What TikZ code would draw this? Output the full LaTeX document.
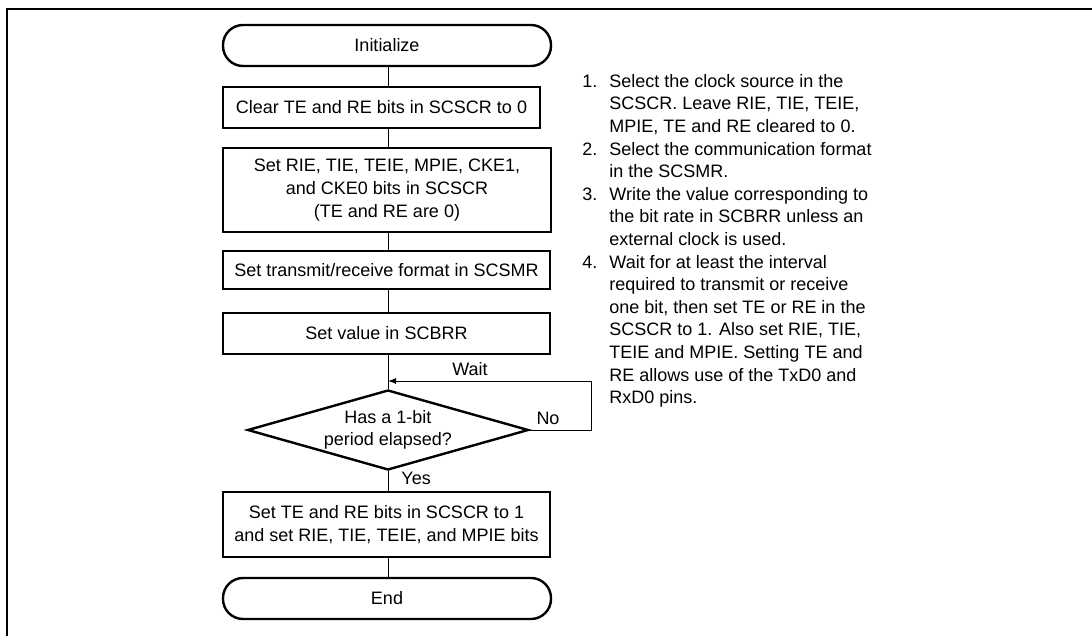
\documentclass[tikz,border=0pt]{standalone}
\usepackage{fontspec}
\setmainfont{Liberation Sans}
\usetikzlibrary{arrows.meta, shapes.geometric}

\begin{document}
\begin{tikzpicture}[x=0.5pt, y=-0.5pt,
    every node/.style={font=\fontsize{9}{11.3}\selectfont},
    termbox/.style={draw, line width=1.2pt, rounded corners=10pt, inner sep=0pt,
                    minimum width=164pt, minimum height=20.5pt},
    procbox/.style={draw, line width=1.2pt, inner sep=0pt, align=center},
    decbox/.style={draw, diamond, line width=1.2pt, inner sep=0pt, aspect=3.5,
                   minimum width=140.5pt, minimum height=40pt, align=center},
    link/.style={line width=0.5pt},
    lbl/.style={inner sep=0pt}]
  \useasboundingbox (0,0) rectangle (1092,636);
  % frame
  \draw[line width=1.2pt] (7,636) -- (7,9) -- (1092,9);

  % flow
  \node[termbox] (init) at (387,45.5) {Initialize};
  \node[procbox, minimum width=158.5pt, minimum height=20.5pt] (clear) at (381.5,107.5)
    {Clear TE and RE bits in SCSCR to 0};
  \node[procbox, minimum width=164pt, minimum height=42pt] (setrie) at (387,190)
    {Set RIE, TIE, TEIE, MPIE, CKE1,\\and CKE0 bits in SCSCR\\(TE and RE are 0)};
  \node[procbox, minimum width=163.5pt, minimum height=19pt] (setfmt) at (386.5,270)
    {Set transmit/receive format in SCSMR};
  \node[procbox, minimum width=163.5pt, minimum height=20.5pt] (setbrr) at (386.5,333.5)
    {Set value in SCBRR};
  \node[decbox] (elapsed) at (388,430) {Has a 1-bit\\period elapsed?};
  \node[procbox, minimum width=163.5pt, minimum height=32.5pt] (sette) at (386.5,524.5)
    {Set TE and RE bits in SCSCR to 1\\and set RIE, TIE, TEIE, and MPIE bits};
  \node[termbox] (finish) at (387,598.5) {End};

  \foreach \a/\b in {init/clear, clear/setrie, setrie/setfmt, setfmt/setbrr,
                     setbrr/elapsed, elapsed/sette, sette/finish}{
    \draw[link] (\a.south -| elapsed.north) -- (\b.north -| elapsed.north);
  }

  % wait loop
  \coordinate (back) at (388,381);
  \draw[link, -{Latex[length=4pt, width=3pt]}] (elapsed.east) -- ++(62,0) |- (back);
  \node[lbl] (waitlbl) at (470,369) {Wait};
  \node[lbl] (nolbl) at (548,418) {No};
  \node[lbl, anchor=west] (yeslbl) at (401,478) {Yes};

  % notes
  \node[lbl, anchor=north west] (notes) at (582,71) {%
    \begin{tabular}{@{}r@{\hspace{6pt}}l@{}}
      1. & Select the clock source in the\\
         & SCSCR. Leave RIE, TIE, TEIE,\\
         & MPIE, TE and RE cleared to 0.\\
      2. & Select the communication format\\
         & in the SCSMR.\\
      3. & Write the value corresponding to\\
         & the bit rate in SCBRR unless an\\
         & external clock is used.\\
      4. & Wait for at least the interval\\
         & required to transmit or receive\\
         & one bit, then set TE or RE in the\\
         & SCSCR to 1. Also set RIE, TIE,\\
         & TEIE and MPIE. Setting TE and\\
         & RE allows use of the TxD0 and\\
         & RxD0 pins.
    \end{tabular}};
\end{tikzpicture}
\end{document}
